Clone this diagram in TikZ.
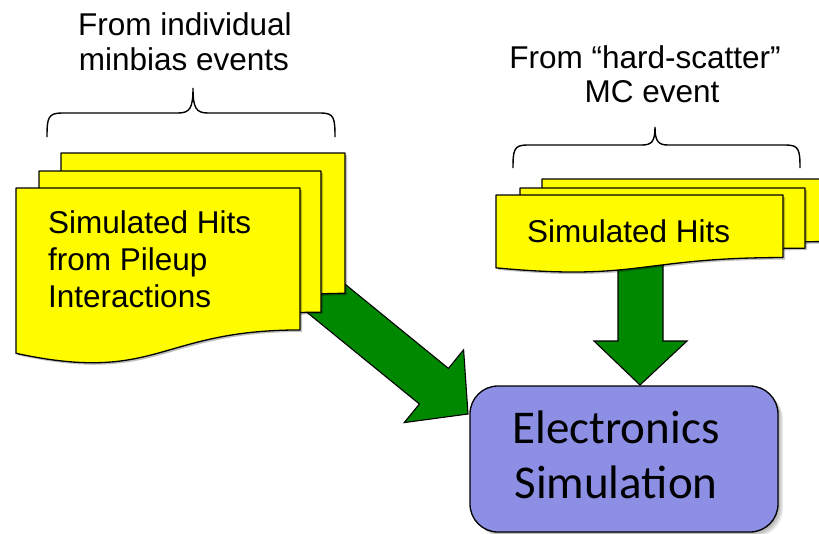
\documentclass[tikz,border=0pt]{standalone}
\usepackage{fontspec}
\setmainfont{Liberation Sans}
\newfontfamily\calibrifont{Carlito}
\definecolor{docyellow}{RGB}{255,252,0}
\definecolor{arrowgreen}{RGB}{0,137,0}
\definecolor{boxblue}{RGB}{140,143,228}
\newcommand{\mydoc}[4]{%
  \fill[black, opacity=0.25, shift={(2,2)}] (#1,#2) -- (#3,#2) -- (#3,{#2+0.802*#4}) .. controls ({(#1+#3)/2},{#2+0.802*#4}) and ({(#1+#3)/2},{#2+1.1075*#4}) .. (#1,{#2+0.934*#4}) -- cycle;
  \filldraw[docstyle] (#1,#2) -- (#3,#2) -- (#3,{#2+0.802*#4}) .. controls ({(#1+#3)/2},{#2+0.802*#4}) and ({(#1+#3)/2},{#2+1.1075*#4}) .. (#1,{#2+0.934*#4}) -- cycle;}
\begin{document}
\begin{tikzpicture}[x=1pt,y=-1pt,
  docstyle/.style={fill=docyellow, draw=black, line width=1.3pt, line join=round},
  blockarrow/.style={fill=arrowgreen, draw=black, line width=1.1pt, line join=miter},
  bracestyle/.style={draw=black, line width=1.4pt},
  lbl/.style={font=\fontsize{31.5}{35}\selectfont, inner sep=0pt, anchor=base},
  doctext/.style={font=\fontsize{31.5}{37}\selectfont, inner sep=0pt, anchor=base west},
  ebox/.style={draw=black, line width=1.3pt, fill=boxblue, rounded corners=28pt, minimum width=308pt, minimum height=146pt, inner sep=0pt},
  etext/.style={font=\calibrifont\fontsize{47}{55}\selectfont, inner sep=0pt, anchor=base},
]
\useasboundingbox (0,0) rectangle (819,533);

% block arrows (behind the documents)
\coordinate (tipA) at (468,414);
\coordinate (tipB) at (640,385);
\filldraw[blockarrow] (312,257.2) -- (448.4,368.4) -- (463.6,349.8) -- (tipA) -- (404.2,422.6) -- (419.4,404.0) -- (283,292.8) -- cycle;
\filldraw[blockarrow] (618,250) -- (663,250) -- (663,341) -- (687,341) -- (tipB) -- (594,341) -- (618,341) -- cycle;

% left stack of documents
\mydoc{61}{153}{345}{175}
\mydoc{39}{171}{321}{176}
\mydoc{16}{188}{300}{177}
% right stack of documents
\mydoc{542}{179}{830}{78}
\mydoc{520}{188}{805}{75}
\mydoc{496}{195}{783}{78}

% document texts
\node[doctext] (pile1) at (48,233) {Simulated Hits};
\node[doctext] (pile2) at (48,270) {from Pileup};
\node[doctext] (pile3) at (48,307) {Interactions};
\node[doctext] (hshits) at (527,242) {Simulated Hits};

% electronics box with soft shadow
\foreach \s in {1,2,3,4,5}{
  \fill[black, opacity=0.07, rounded corners=28pt] (470+\s,386+\s) rectangle (778+\s,532+\s);
}
\node[ebox] (elec) at (624,459) {};
\node[etext] (elec1) at (616,443) {Electronics};
\node[etext] (elec2) at (616,498) {Simulation};

% labels
\node[lbl] (lblA1) at (185,35) {From individual};
\node[lbl] (lblA2) at (184,70) {minbias events};
\node[lbl] (lblB1) at (645,68) {From “hard-scatter”};
\node[lbl] (lblB2) at (652,102) {MC event};

% braces
\draw[bracestyle] (47,137) .. controls (47,118) and (48,113) .. (62,113) -- (178,113) .. controls (190,113) and (193,108) .. (193,88) .. controls (193,108) and (196,113) .. (208,113) -- (321,113) .. controls (334,113) and (335,118) .. (335,137);
\draw[bracestyle] (513,168) .. controls (513,150) and (514,145) .. (527,145) -- (642,145) .. controls (652,145) and (655,141) .. (655,127) .. controls (655,141) and (658,145) .. (668,145) -- (786,145) .. controls (799,145) and (800,150) .. (800,168);
\end{tikzpicture}
\end{document}
